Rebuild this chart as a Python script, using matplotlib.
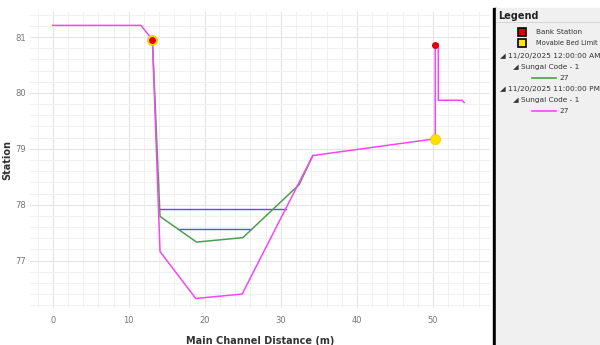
import matplotlib.pyplot as plt
from matplotlib.patches import Rectangle
from matplotlib.lines import Line2D
from matplotlib.ticker import MultipleLocator

# profile at 11/20/2025 12:00:00 AM (green, only the channel part differs)
x_am = [13.1, 14.1, 18.9, 25.0, 32.4, 34.2]
z_am = [80.95, 77.79, 77.33, 77.41, 78.36, 78.88]

# profile at 11/20/2025 11:00:00 PM (pink)
x_pm = [0, 11.6, 13.1, 14.1, 18.8, 24.9, 34.2, 50.3, 50.3, 50.7, 50.7, 53.8, 54.1]
z_pm = [81.21, 81.21, 80.95, 77.16, 76.32, 76.40, 78.88, 79.18, 80.88, 80.88, 79.87, 79.87, 79.83]

# water surfaces
ws_x = [[14.0, 30.7], [16.5, 26.05]]
ws_z = [77.92, 77.56]

bank_x = [13.1, 50.3]
bank_z = [80.95, 80.86]
bed_x = [13.1, 50.3]
bed_z = [80.95, 79.18]

fig = plt.figure(figsize=(6, 3.45), dpi=100)
ax = fig.add_axes([30/600, 1 - 308/345, 460/600, 296/345])

for xs, z in zip(ws_x, ws_z):
    ax.plot(xs, [z, z], color='#4658f0', lw=1.0, zorder=3)
ax.plot(x_am, z_am, color='#4f9e4f', lw=1.1, zorder=4)
ax.plot(x_pm, z_pm, color='#f448f4', lw=1.1, zorder=5)
ax.scatter(bed_x, bed_z, s=55, color='#ffe000', edgecolors='#f5c800', lw=0.5, zorder=6)
ax.scatter(bank_x, bank_z, s=16, color='#e00000', zorder=7)

ax.set_xlim(-3, 57.5)
ax.set_ylim(76.15, 81.45)
ax.xaxis.set_major_locator(MultipleLocator(10))
ax.xaxis.set_minor_locator(MultipleLocator(2))
ax.yaxis.set_major_locator(MultipleLocator(1))
ax.yaxis.set_minor_locator(MultipleLocator(0.2))
ax.grid(which='major', color='#e4e4e4', lw=0.8)
ax.grid(which='minor', color='#f0f0f0', lw=0.7)
ax.set_axisbelow(True)
for s in ax.spines.values():
    s.set_visible(False)
ax.tick_params(which='both', length=0, labelsize=6, colors='#777777', pad=3)
ax.tick_params(axis='x', pad=6)
ax.set_xlabel('Main Channel Distance (m)', fontsize=7, fontweight='bold', color='#333333', labelpad=8)
ax.set_ylabel('Station', fontsize=7, fontweight='bold', color='#333333', labelpad=2)

# legend panel
fig.add_artist(Rectangle((492.5/600, 0), 3/600, 1 - 8/345, transform=fig.transFigure, color='black'))
fig.add_artist(Rectangle((496/600, 0), 104/600, 1 - 8/345, transform=fig.transFigure, color='#f0f0f0'))
fig.add_artist(Line2D([496/600, 1], [1 - 22/345, 1 - 22/345], transform=fig.transFigure, color='#d0d0d0', lw=0.6))

def fx(px):
    return px / 600

def fy(py):
    return 1 - py / 345

fig.text(fx(498), fy(16), 'Legend', fontsize=7, fontweight='bold', va='center', color='#222222')
fig.add_artist(Rectangle((fx(518), fy(36)), 8/600, 8/345, transform=fig.transFigure, facecolor='#e00000', edgecolor='black', lw=1.2))
fig.text(fx(536), fy(32), 'Bank Station', fontsize=5.2, va='center', color='#333333')
fig.add_artist(Rectangle((fx(518), fy(47)), 8/600, 8/345, transform=fig.transFigure, facecolor='#ffe800', edgecolor='black', lw=1.2))
fig.text(fx(536), fy(43), 'Movable Bed Limit', fontsize=4.8, va='center', color='#333333')

items = [
    (500, 56, '\u25e2 11/20/2025 12:00:00 AM'),
    (513, 67, '\u25e2 Sungai Code - 1'),
    (500, 89, '\u25e2 11/20/2025 11:00:00 PM'),
    (513, 100, '\u25e2 Sungai Code - 1'),
]
for px, py, t in items:
    fig.text(fx(px), fy(py), t, fontsize=5.3, va='center', color='#333333')
for py, c in [(78, '#4f9e4f'), (111, '#f448f4')]:
    fig.add_artist(Line2D([fx(532), fx(556)], [fy(py), fy(py)], transform=fig.transFigure, color=c, lw=1.2))
    fig.text(fx(559), fy(py), '27', fontsize=5.3, va='center', color='#333333')

fig.savefig('out.png', dpi=100)
